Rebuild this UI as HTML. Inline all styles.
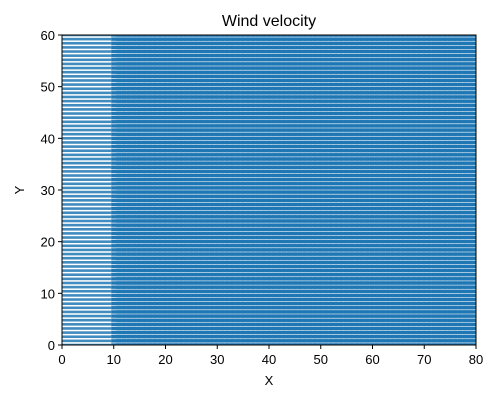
<!DOCTYPE html>
<html><head><meta charset="utf-8"><style>
body{margin:0;background:#fff;font-family:"Liberation Sans",sans-serif;}
</style></head><body>
<svg width="500" height="400" font-family="Liberation Sans, sans-serif">
<rect width="500" height="400" fill="#fff"/>
<text x="269" y="26" text-anchor="middle" font-size="16">Wind velocity</text>
<g id="plot"></g>
<rect x="62" y="35" width="414" height="310" fill="none" stroke="#000" stroke-width="1"/>
<g id="axes" font-size="13"></g>
<text x="269" y="385" text-anchor="middle" font-size="13">X</text>
<text x="24" y="190" text-anchor="middle" font-size="13" transform="rotate(-90 24 190)">Y</text>
</svg>
<script>
const xTicks=[0,10,20,30,40,50,60,70,80];
const yTicks=[0,10,20,30,40,50,60];
const xs=[0];for(let i=0;i<=71;i++)xs.push(9.5+i);
const ys=[];for(let j=0;j<=75;j++)ys.push(+(j*0.8).toFixed(2));
const uRow=[9.5,1.9,1.9,1.9,1.9,1.9];
const NS='http://www.w3.org/2000/svg';
const L=62,R=476,T=35,B=345;
const sx=v=>L+(v-0)/80*(R-L);
const sy=v=>B-(v-0)/60*(B-T);
const plot=document.getElementById('plot');
const clip=document.createElementNS(NS,'clipPath');clip.id='c';
const cr=document.createElementNS(NS,'rect');cr.setAttribute('x',L);cr.setAttribute('y',T);cr.setAttribute('width',R-L);cr.setAttribute('height',B-T);
clip.appendChild(cr);plot.appendChild(clip);plot.setAttribute('clip-path','url(#c)');
ys.forEach(y=>{
  xs.forEach((x,i)=>{
    const u=uRow[Math.min(i,uRow.length-1)];
    const r=document.createElementNS(NS,'rect');
    
    
    const x0=sx(x),x1=sx(x+u);
    r.setAttribute('x',x0);r.setAttribute('width',x1-x0);
    r.setAttribute('fill','#1f77b4');
    if(i===0){r.setAttribute('y',sy(y)-1.3);r.setAttribute('height',2.6);r.setAttribute('fill-opacity','0.85');}
    else{r.setAttribute('y',sy(y)-1.7);r.setAttribute('height',3.4);}
    plot.appendChild(r);
  });
});
const ax=document.getElementById('axes');
xTicks.forEach(t=>{
  const l=document.createElementNS(NS,'line');
  
  
  l.setAttribute('x1',sx(t));l.setAttribute('x2',sx(t));l.setAttribute('y1',B);l.setAttribute('y2',B+4);l.setAttribute('stroke','#000');
  ax.appendChild(l);
  const tx=document.createElementNS(NS,'text');
  
  
  tx.setAttribute('x',sx(t));tx.setAttribute('y',B+19);tx.setAttribute('text-anchor','middle');tx.textContent=t;
  ax.appendChild(tx);
});
yTicks.forEach(t=>{
  const l=document.createElementNS(NS,'line');
  
  
  l.setAttribute('x1',L-4);l.setAttribute('x2',L);l.setAttribute('y1',sy(t));l.setAttribute('y2',sy(t));l.setAttribute('stroke','#000');
  ax.appendChild(l);
  const tx=document.createElementNS(NS,'text');
  
  
  tx.setAttribute('x',L-7);tx.setAttribute('y',sy(t)+5);tx.setAttribute('text-anchor','end');tx.textContent=t;
  ax.appendChild(tx);
});
</script>
</body></html>
